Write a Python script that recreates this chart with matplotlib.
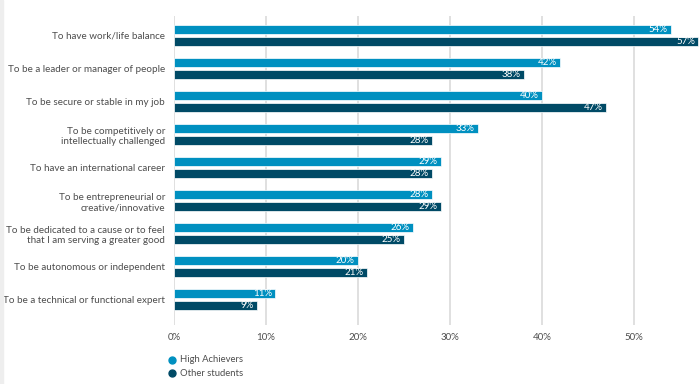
import matplotlib.pyplot as plt
from matplotlib.patches import Rectangle
import numpy as np

# --- Data ---
categories = [
    "To have work/life balance",
    "To be a leader or manager of people",
    "To be secure or stable in my job",
    "To be competitively or\nintellectually challenged",
    "To have an international career",
    "To be entrepreneurial or\ncreative/innovative",
    "To be dedicated to a cause or to feel\nthat I am serving a greater good",
    "To be autonomous or independent",
    "To be a technical or functional expert",
]
high_achievers = [54, 42, 40, 33, 29, 28, 26, 20, 11]
other_students = [57, 38, 47, 28, 28, 29, 25, 21, 9]
series_names = ["High Achievers", "Other students"]
x_ticks = [0, 10, 20, 30, 40, 50]

HA_COLOR = "#0090C0"
OS_COLOR = "#004A66"
TEXT_COLOR = "#4d4d4d"

plt.rcParams["font.family"] = ["Lato", "DejaVu Sans"]

fig = plt.figure(figsize=(7.0, 3.84), dpi=100)
ax = fig.add_axes([174 / 700, 1 - 325 / 384, 524.4 / 700, 309 / 384])

y = np.arange(len(categories))
h = 0.28
off = 0.178
bars_ha = ax.barh(y - off, high_achievers, height=h, color=HA_COLOR,
                  edgecolor="white", linewidth=0.5, zorder=3, clip_on=False)
bars_os = ax.barh(y + off, other_students, height=h, color=OS_COLOR,
                  edgecolor="white", linewidth=0.5, zorder=3, clip_on=False)

# --- Value labels inside the bar ends ---
for bars, vals in ((bars_ha, high_achievers), (bars_os, other_students)):
    for b, v in zip(bars, vals):
        ax.text(v - 0.35, b.get_y() + b.get_height() / 2, f"{v}%",
                ha="right", va="center", color="white", fontsize=7,
                zorder=4)

ax.set_xlim(0, 57)
ax.set_ylim(8.77, -0.59)
ax.set_xticks(x_ticks)
ax.set_xticklabels([f"{t}%" for t in x_ticks])
ax.set_yticks(y)
ax.set_yticklabels(categories, linespacing=1.25)
ax.tick_params(axis="both", length=0, colors=TEXT_COLOR, labelsize=7.1)
ax.tick_params(axis="y", pad=6.5)
ax.tick_params(axis="x", pad=6, labelsize=7)
for lbl in ax.get_yticklabels():
    lbl.set_horizontalalignment("right")
    lbl.set_multialignment("right")

ax.grid(axis="x", color="#dddddd", linewidth=1.3, zorder=0)
for s in ax.spines.values():
    s.set_visible(False)

# --- Legend (manual, bottom-left under the axis) ---
for i, (name, col) in enumerate(zip(series_names, [HA_COLOR, OS_COLOR])):
    yy = 1 - (360 + i * 13) / 384
    fig.lines.append(plt.Line2D([171.7 / 700], [yy], marker="o", markersize=5,
                                color=col, linestyle="none",
                                transform=fig.transFigure))
    fig.text(180 / 700, yy, name, ha="left", va="center",
             fontsize=6.8, color=TEXT_COLOR)

# light strip on the left edge
fig.patches.append(Rectangle((0, 0), 3 / 700, 1, transform=fig.transFigure,
                             color="#eeeeee", zorder=0))

fig.savefig("out.png", dpi=100)
